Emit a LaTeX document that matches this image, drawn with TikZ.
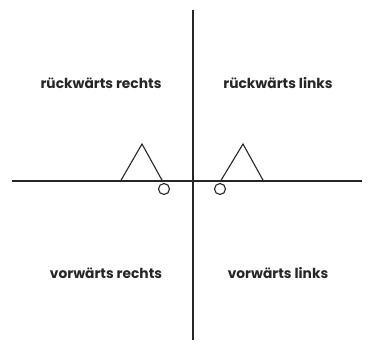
\documentclass[tikz,border=0pt]{standalone}
\usepackage{fontspec}
\setmainfont{Poppins}
\begin{document}
\begin{tikzpicture}[x=1pt,y=-1pt,
  axis/.style={line width=1.1pt,draw=black!85},
  tri/.style={line width=1.1pt,draw=black!85,line join=miter},
  wheel/.style={circle,draw=black!85,line width=1.1pt,minimum size=11pt,inner sep=0pt},
  lab/.style={font=\fontsize{13.8}{16}\selectfont\bfseries,text=black!85}]
\useasboundingbox (0,0) rectangle (374,347);
\coordinate (vt) at (193,10);
\coordinate (vb) at (193,340);
\coordinate (hl) at (12,181);
\coordinate (hr) at (362,181);
\draw[axis] (vt) -- (vb);
\draw[axis] (hl) -- (hr);
\draw[tri] (120,182) -- (142,144) -- (163,182);
\draw[tri] (220,182) -- (243,144) -- (264,182);
\node[wheel] (w1) at (164,189) {};
\node[wheel] (w2) at (220,189) {};
\node[lab] (rr) at (101,83) {rückwärts rechts};
\node[lab] (rl) at (278,83) {rückwärts links};
\node[lab] (vr) at (106,273) {vorwärts rechts};
\node[lab] (vl) at (278,273) {vorwärts links};
\end{tikzpicture}
\end{document}
